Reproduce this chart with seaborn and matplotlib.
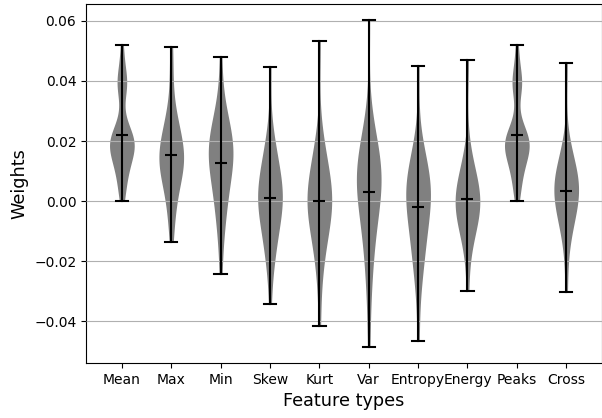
import numpy as np
import pandas as pd
import matplotlib
matplotlib.use("Agg")
import matplotlib.pyplot as plt
import seaborn as sns

features = ["Mean", "Max", "Min", "Skew", "Kurt", "Var", "Entropy", "Energy", "Peaks", "Cross"]

w_mean = [0.0001, 0.003, 0.006, 0.008, 0.010, 0.012, 0.013, 0.014, 0.015, 0.016,
          0.017, 0.018, 0.019, 0.019, 0.020, 0.020, 0.021, 0.021, 0.022, 0.023,
          0.025, 0.028, 0.036, 0.038, 0.039, 0.040, 0.042, 0.046, 0.0518]
w_max = [-0.0136, -0.006, -0.002, 0.002, 0.005, 0.008, 0.010, 0.011, 0.012, 0.013, 0.013,
         0.014, 0.015, 0.016, 0.018, 0.019, 0.021, 0.022, 0.025, 0.027, 0.030, 0.042, 0.0514]
w_min = [-0.0242, -0.012, -0.007, -0.003, 0.000, 0.003, 0.006, 0.008, 0.010, 0.012, 0.013,
         0.015, 0.016, 0.017, 0.018, 0.019, 0.020, 0.022, 0.024, 0.026, 0.029, 0.033, 0.0478]
w_skew = [-0.0342, -0.020, -0.018, -0.015, -0.011, -0.008, -0.006, -0.004, -0.002, -0.001,
          0.000, 0.001, 0.002, 0.003, 0.004, 0.006, 0.008, 0.010, 0.013, 0.014, 0.018, 0.022, 0.0447]
w_kurt = [-0.0416, -0.024, -0.018, -0.014, -0.010, -0.007, -0.005, -0.003, -0.002, -0.001,
          0.000, 0.001, 0.002, 0.003, 0.005, 0.007, 0.010, 0.013, 0.017, 0.019, 0.0532]
w_var = [-0.0484, -0.030, -0.022, -0.016, -0.011, -0.007, -0.004, -0.001, 0.002, 0.004, 0.006,
         0.007, 0.008, 0.009, 0.010, 0.011, 0.012, 0.014, 0.017, 0.020, 0.025, 0.0601]
w_entropy = [-0.0465, -0.028, -0.021, -0.019, -0.016, -0.012, -0.009, -0.006, -0.004, -0.002,
             0.000, 0.002, 0.003, 0.004, 0.005, 0.006, 0.007, 0.009, 0.011, 0.014, 0.018, 0.0449]
w_energy = [-0.0298, -0.016, -0.011, -0.008, -0.006, -0.005, -0.004, -0.002, -0.001, 0.000,
            0.001, 0.002, 0.003, 0.004, 0.006, 0.008, 0.011, 0.015, 0.0471]
w_peaks = [0.0001, 0.003, 0.006, 0.008, 0.010, 0.012, 0.013, 0.014, 0.015, 0.016,
           0.017, 0.018, 0.019, 0.019, 0.020, 0.020, 0.021, 0.021, 0.022, 0.023,
           0.025, 0.028, 0.036, 0.038, 0.039, 0.040, 0.042, 0.046, 0.0518]
w_cross = [-0.0302, -0.014, -0.009, -0.005, -0.003, -0.001, 0.001, 0.002, 0.003, 0.004, 0.005,
           0.006, 0.008, 0.009, 0.010, 0.013, 0.017, 0.0459]

# features whose weight distribution is bimodal (drawn with a narrower kernel)
bimodal = ["Mean", "Peaks"]

samples = [w_mean, w_max, w_min, w_skew, w_kurt, w_var, w_entropy, w_energy, w_peaks, w_cross]
df = pd.DataFrame({
    "feature": [f for f, s in zip(features, samples) for _ in s],
    "weight": [v for s in samples for v in s],
})

fig = plt.figure(figsize=(6.02, 4.18), dpi=100)
ax = fig.add_axes([0.143, 0.1316, 0.857, 0.8584])

vkw = dict(x="feature", y="weight", order=features, cut=0, width=0.5,
           density_norm="width", inner=None, color="#808080", saturation=1,
           linewidth=0, linecolor="#808080", ax=ax)
sns.violinplot(data=df[~df["feature"].isin(bimodal)], bw_adjust=1.0, **vkw)
sns.violinplot(data=df[df["feature"].isin(bimodal)], bw_adjust=0.7, **vkw)

sns.pointplot(data=df, x="feature", y="weight", order=features, estimator="mean",
              errorbar=("pi", 100), capsize=0.25, color="black", marker="_",
              markersize=9, markeredgewidth=1.5, linestyle="none",
              err_kws={"linewidth": 1.5}, ax=ax)
for ln in ax.lines:
    ln.set_zorder(3)

ax.set_xlim(-0.725, 9.725)
ax.set_axisbelow(False)
ax.yaxis.grid(True, color="#b0b0b0", linewidth=0.8)
ax.xaxis.grid(False)
ax.set_xlabel("Feature types", fontsize=12.7)
ax.set_ylabel("Weights", fontsize=12.7)
ax.tick_params(labelsize=10)
for s in ax.spines.values():
    s.set_linewidth(0.8)

fig.savefig("out.png", dpi=100)
